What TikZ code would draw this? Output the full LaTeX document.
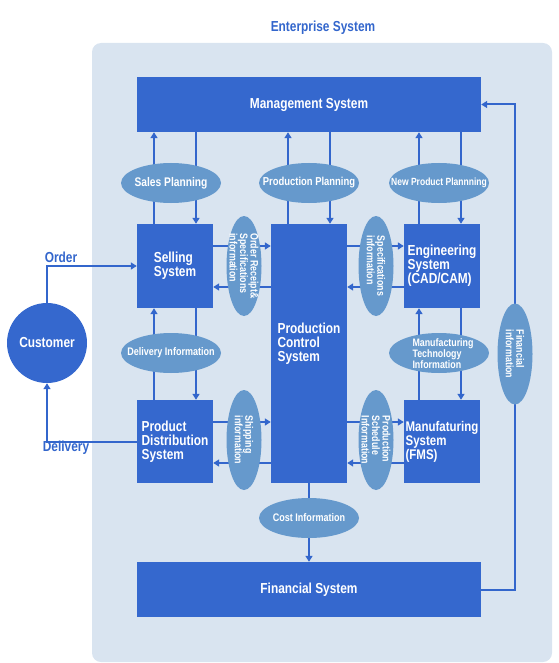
\documentclass[tikz,border=0pt]{standalone}
\usepackage{fontspec}
\setmainfont{Liberation Sans}[FakeStretch=0.82]
\usetikzlibrary{shapes.geometric,arrows.meta}
\definecolor{boxblue}{RGB}{53,104,206}
\definecolor{ellblue}{RGB}{102,153,204}
\definecolor{bgblue}{RGB}{217,228,240}
\definecolor{lineblue}{RGB}{51,102,204}
\begin{document}
\begin{tikzpicture}[x=1pt,y=-1pt,
  box/.style={fill=boxblue,draw=none,inner sep=0pt,text=white,align=left,
    font=\bfseries\fontsize{14.5}{14}\selectfont},
  boxtext/.style={inner sep=0pt,text=white,align=left,
    font=\bfseries\fontsize{14.5}{14}\selectfont},
  ell/.style={ellipse,fill=ellblue,draw=none,inner sep=0pt},
  vell/.style={ell,minimum width=35pt,minimum height=100pt},
  hell/.style={ell,minimum width=100pt,minimum height=40pt},
  etxt/.style={inner sep=0pt,text=white,align=left,
    font=\bfseries\fontsize{11}{10}\selectfont},
  vtxt/.style={etxt,rotate=-90,font=\bfseries\fontsize{10.8}{10.5}\selectfont},
  arr/.style={draw=lineblue,line width=2pt,-{Triangle[length=6pt,width=7pt]}},
  lbl/.style={inner sep=0pt,text=lineblue,font=\bfseries\fontsize{14.5}{14}\selectfont}
]
\useasboundingbox (0,0) rectangle (558,663);
\fill[bgblue,rounded corners=9pt] (92,43) rectangle (552,662);
\node[lbl] (title) at (323,28) {Enterprise System};

% column / row helper coordinates
\coordinate (x154) at (154,0);
\coordinate (x196) at (196,0);
\coordinate (x288) at (288,0);
\coordinate (x330) at (330,0);
\coordinate (x419) at (419,0);
\coordinate (x461) at (461,0);
\coordinate (x515) at (515,0);
\coordinate (y246) at (0,246);
\coordinate (y287) at (0,287);
\coordinate (y422) at (0,422);
\coordinate (y463) at (0,463);

% boxes
\node[box,minimum width=344pt,minimum height=55pt] (mgmt) at (309,104.5) {Management System};
\node[box,minimum width=76pt,minimum height=84pt] (sell) at (175,266) {Selling\\System};
\node[box,minimum width=76pt,minimum height=259pt] (pcs) at (309,353.5) {};
\node[boxtext] (pcst) at (309,344) {Production\\Control\\System};
\node[box,minimum width=76pt,minimum height=84pt] (eng) at (442,266) {Engineering\\System\\(CAD/CAM)};
\node[box,minimum width=76pt,minimum height=83pt] (pds) at (175,441.5) {Product\\Distribution\\System};
\node[box,minimum width=76pt,minimum height=83pt,font=\bfseries\fontsize{14}{14}\selectfont] (mfs) at (442,441.5) {Manufaturing\\System\\(FMS)};
\node[box,minimum width=344pt,minimum height=55pt] (fin) at (309,589.5) {Financial System};
\node[circle,fill=boxblue,minimum size=80pt,inner sep=0pt,text=white,
  font=\bfseries\fontsize{14.5}{14}\selectfont] (cust) at (47,343) {Customer};

% connectors
\draw[arr] (sell.north -| x154) -- (mgmt.south -| x154);
\draw[arr] (mgmt.south -| x196) -- (sell.north -| x196);
\draw[arr] (pcs.north -| x288) -- (mgmt.south -| x288);
\draw[arr] (mgmt.south -| x330) -- (pcs.north -| x330);
\draw[arr] (eng.north -| x419) -- (mgmt.south -| x419);
\draw[arr] (mgmt.south -| x461) -- (eng.north -| x461);

\draw[arr] (sell.east |- y246) -- (pcs.west |- y246);
\draw[arr] (pcs.west |- y287) -- (sell.east |- y287);
\draw[arr] (pcs.east |- y246) -- (eng.west |- y246);
\draw[arr] (eng.west |- y287) -- (pcs.east |- y287);

\draw[arr] (pds.north -| x154) -- (sell.south -| x154);
\draw[arr] (sell.south -| x196) -- (pds.north -| x196);
\draw[arr] (mfs.north -| x419) -- (eng.south -| x419);
\draw[arr] (eng.south -| x461) -- (mfs.north -| x461);

\draw[arr] (pds.east |- y422) -- (pcs.west |- y422);
\draw[arr] (pcs.west |- y463) -- (pds.east |- y463);
\draw[arr] (pcs.east |- y422) -- (mfs.west |- y422);
\draw[arr] (mfs.west |- y463) -- (pcs.east |- y463);

\draw[arr] (pcs.south) -- (fin.north);
\draw[arr] (fin.east) -| (x515 |- mgmt.east) -- (mgmt.east);

\draw[arr] (cust.north) |- (sell.west);
\draw[arr] (pds.west) -| (cust.south);
\node[lbl] (ord) at (61,257) {Order};
\node[lbl] (dlv) at (66,448) {Delivery};

% information ellipses
\node[hell] (sp) at (171,183) {};
\node[etxt,font=\bfseries\fontsize{12.5}{11}\selectfont] (spt) at (sp) {Sales Planning};
\node[hell] (pp) at (309,183) {};
\node[etxt,font=\bfseries\fontsize{11.5}{11}\selectfont] (ppt) at (pp) {Production Planning};
\node[hell] (np) at (439,183) {};
\node[etxt,font=\bfseries\fontsize{10.4}{10}\selectfont] (npt) at (np) {New Product Plannning};
\node[vell] (ors) at (244,266) {};
\node[vtxt] (orst) at (ors) {Order Receipt\&\\Specifications\\information};
\node[vell] (si) at (376,266) {};
\node[vtxt] (sit) at (si) {Specifications\\information};
\node[hell] (di) at (171,353) {};
\node[etxt] (dit) at (di) {Delivery Information};
\node[hell] (mti) at (439,353) {};
\node[etxt,font=\bfseries\fontsize{10.8}{10}\selectfont] (mtit) at (443,354) {Manufacturing\\Technology\\Information};
\node[vell,minimum height=101pt] (fi) at (515,354) {};
\node[vtxt] (fit) at (fi) {Financial\\information};
\node[vell] (shi) at (244,440) {};
\node[vtxt] (shit) at (shi) {Shipping\\information};
\node[vell] (psi) at (376,440) {};
\node[vtxt] (psit) at (psi) {Production\\Schedule\\Information};
\node[hell] (ci) at (309,518) {};
\node[etxt] (cit) at (ci) {Cost Information};
\end{tikzpicture}
\end{document}
